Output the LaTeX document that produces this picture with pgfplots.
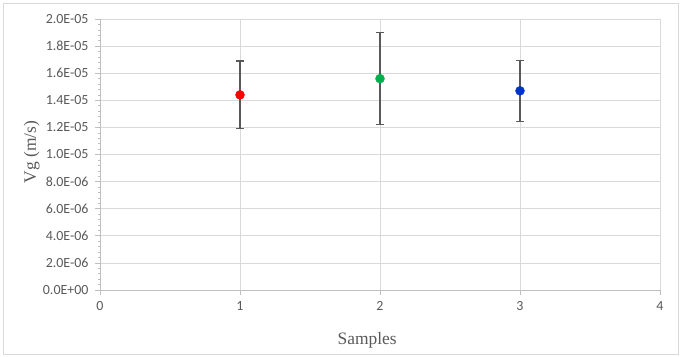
\documentclass[border=0pt]{standalone}
\usepackage{pgfplots}
\pgfplotsset{compat=1.18}
\usepackage{fontspec}
\setmainfont{Liberation Serif}
\newfontfamily\calibri{Carlito}
\definecolor{ticktext}{RGB}{89,89,89}
\definecolor{gridc}{RGB}{217,217,217}
\definecolor{axisc}{RGB}{191,191,191}
\definecolor{errc}{RGB}{89,89,89}
\definecolor{pred}{RGB}{255,0,0}
\definecolor{pgreen}{RGB}{0,176,80}
\definecolor{pblue}{RGB}{0,51,204}
\begin{document}
\begin{tikzpicture}[x=1bp,y=1bp]
\path (-100bp,-67bp) rectangle (581bp,290bp);
\draw[color=gridc, line width=0.8bp] (-97bp,-64bp) rectangle (578bp,287bp);
\begin{axis}[
  at={(0,0)}, anchor=south west,
  scale only axis, width=560bp, height=271bp,
  xmin=0, xmax=4, ymin=0, ymax=2e-5,
  xtick={0,1,2,3,4},
  xticklabels={0,1,2,3,4},
  ytick={0,2e-6,4e-6,6e-6,8e-6,1e-5,1.2e-5,1.4e-5,1.6e-5,1.8e-5,2e-5},
  yticklabels={0.0E+00,2.0E-06,4.0E-06,6.0E-06,8.0E-06,1.0E-05,1.2E-05,1.4E-05,1.6E-05,1.8E-05,2.0E-05},
  scaled y ticks=false,
  xticklabel style={font=\calibri\fontsize{14}{16}\selectfont, text=ticktext, yshift=-3bp},
  yticklabel style={font=\calibri\fontsize{14}{16}\selectfont, text=ticktext, xshift=-3bp},
  grid=major,
  major grid style={color=gridc, line width=0.8bp},
  axis line style={color=axisc, line width=0.8bp},
  axis x line*=bottom, axis y line*=left,
  tick style={color=axisc, line width=0.8bp},
  major tick length=5bp,
  tick align=outside,
  minor y tick num=4,
  minor tick length=2bp,
  minor tick style={color=axisc, line width=0.5bp},
  xlabel={Samples}, ylabel={Vg (m/s)},
  xlabel style={font=\fontsize{17.5}{20}\selectfont, text=ticktext, at={(axis description cs:0.477,0)}, anchor=center, yshift=-50bp},
  ylabel style={font=\fontsize{17.5}{20}\selectfont, text=ticktext, at={(axis description cs:-0.122,0.51)}, anchor=center, rotate=0},
  clip=false,
]
\addplot[only marks, mark=*, mark size=4.5bp, mark options={draw=pred, fill=pred},
  error bars/.cd, y dir=both, y explicit, error bar style={color=errc, line width=1.1bp},
  error mark options={rotate=90, mark size=4bp, color=errc, line width=1.1bp}]
  coordinates {(1,1.44e-5) +- (0,0.25e-5)};
\addplot[only marks, mark=*, mark size=4.5bp, mark options={draw=pgreen, fill=pgreen},
  error bars/.cd, y dir=both, y explicit, error bar style={color=errc, line width=1.1bp},
  error mark options={rotate=90, mark size=4bp, color=errc, line width=1.1bp}]
  coordinates {(2,1.56e-5) += (0,0.34e-5) -= (0,0.34e-5)};
\addplot[only marks, mark=*, mark size=4.5bp, mark options={draw=pblue, fill=pblue},
  error bars/.cd, y dir=both, y explicit, error bar style={color=errc, line width=1.1bp},
  error mark options={rotate=90, mark size=4bp, color=errc, line width=1.1bp}]
  coordinates {(3,1.47e-5) +- (0,0.225e-5)};
\end{axis}
\end{tikzpicture}
\end{document}
